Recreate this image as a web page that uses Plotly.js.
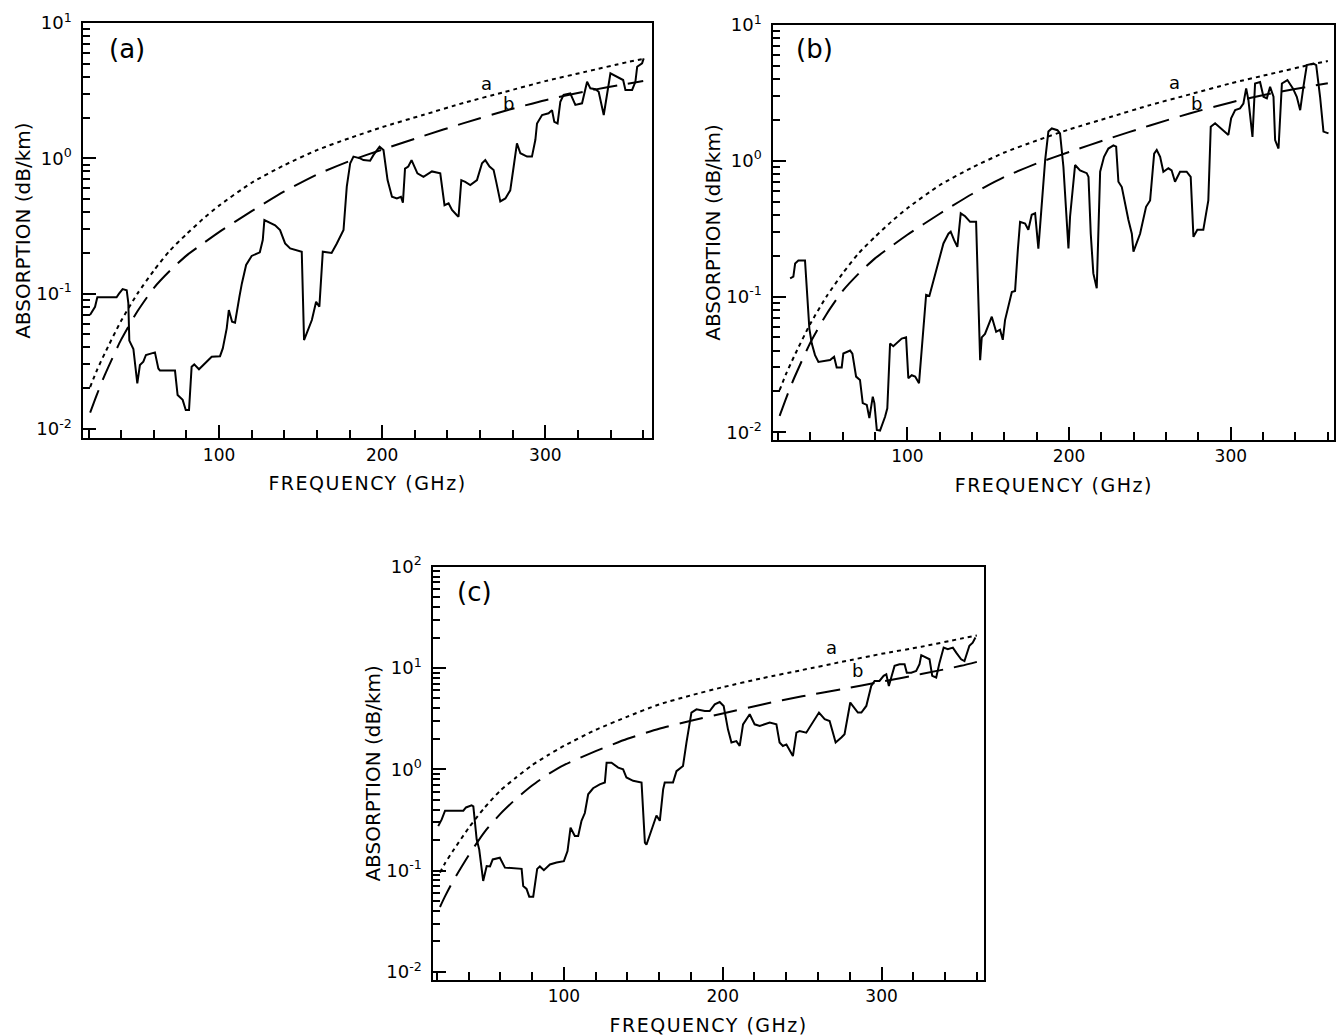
<!DOCTYPE html>
<html>
<head>
<meta charset="utf-8">
<script src="https://cdn.plot.ly/plotly-3.0.1.min.js"></script>
<style>
  html, body { margin: 0; padding: 0; background: #ffffff; }
  #chart { width: 1336px; height: 1036px; }
  .xtitle, .x2title, .x3title { letter-spacing: 1.5px; }
</style>
</head>
<body>
<div id="chart"></div>
<script>
// ---------------- tick labels ----------------
const freqTicks = [100, 200, 300];
const freqTickLabels = ['100', '200', '300'];
const absTicksAB = [0.01, 0.1, 1, 10];
const absTickLabelsAB = ['10<sup>-2</sup>', '10<sup>-1</sup>', '10<sup>0</sup>', '10<sup>1</sup>'];
const absTicksC = [0.01, 0.1, 1, 10, 100];
const absTickLabelsC = ['10<sup>-2</sup>', '10<sup>-1</sup>', '10<sup>0</sup>', '10<sup>1</sup>', '10<sup>2</sup>'];
const panelLabels = ['(a)', '(b)', '(c)'];
const curveLabels = ['a', 'b'];

// ---------------- model curves (dotted "a", dashed "b") ----------------
const freqModel = [21, 25, 30, 40, 50, 60, 70, 80, 90, 100, 120, 140, 160, 180, 200, 225, 250, 275, 300, 325, 350, 360];
const modelA_ab = [0.0204, 0.0269, 0.0363, 0.063, 0.100, 0.148, 0.209, 0.275, 0.355, 0.447, 0.66, 0.89, 1.15, 1.41, 1.70, 2.09, 2.57, 3.09, 3.72, 4.37, 5.13, 5.43];
const modelB_ab = [0.0132, 0.0178, 0.0251, 0.0457, 0.0741, 0.110, 0.148, 0.191, 0.234, 0.285, 0.407, 0.569, 0.759, 0.955, 1.16, 1.46, 1.82, 2.24, 2.69, 3.13, 3.55, 3.72];
const freqModelC = [22, 25, 30, 40, 50, 60, 70, 80, 90, 100, 120, 140, 160, 180, 200, 225, 250, 275, 300, 325, 350, 360];
const modelA_c = [0.0955, 0.117, 0.155, 0.263, 0.417, 0.617, 0.832, 1.10, 1.38, 1.70, 2.45, 3.31, 4.37, 5.37, 6.46, 7.94, 9.55, 11.5, 13.8, 16.2, 19.5, 20.9];
const modelB_c = [0.0437, 0.0550, 0.0776, 0.141, 0.240, 0.363, 0.513, 0.692, 0.891, 1.10, 1.51, 2.00, 2.51, 3.02, 3.55, 4.37, 5.25, 6.17, 7.33, 8.71, 10.5, 11.5];

// ---------------- measured curve, panel (a) ----------------
const freqMeasA = [
  20.9, 24, 25.4, 37.2, 38.7, 40.9, 43.4, 44.4, 45, 47.5,
  49.9, 51.5, 53.6, 55.2, 60.7, 62.8, 63.8, 73, 74.6, 77.7,
  79.6, 81.6, 83.2, 84.8, 87.7, 91.4, 95.5, 100.6, 102.3, 104.7,
  106, 108, 109.8, 112.5, 114, 116.6, 120, 125, 126.8, 127.8,
  134.4, 137.4, 140.5, 143.6, 146.6, 150.7, 152.1, 156.9, 159.5, 161.5,
  163.6, 169, 172.2, 176.3, 178.3, 180.4, 182.4, 186.5, 188.5, 192.6,
  194.7, 198.4, 200.8, 203.3, 206, 209, 211.5, 212.7, 214, 216,
  218, 221.6, 225.3, 230.5, 235.6, 238.2, 240.7, 242.8, 245.8, 246.8,
  248.5, 250.9, 254, 258.1, 261.2, 263.2, 265.8, 268.3, 269.9, 272.4,
  275.5, 278.5, 280.6, 282.6, 284.7, 288.8, 291.8, 293.9, 294.9, 298,
  302, 304.1, 305.5, 307.5, 309.2, 311.2, 315.3, 318.4, 322.5, 325.6,
  327.6, 330.7, 332.7, 335.8, 339.9, 344, 347.7, 349.1, 353.2, 355.2,
  356.3, 359.3, 360.3
];
const absMeasA = [
  0.0695, 0.080, 0.094, 0.094, 0.10, 0.108, 0.106, 0.085, 0.045, 0.039,
  0.0217, 0.0297, 0.0314, 0.0352, 0.0368, 0.028, 0.027, 0.027, 0.0178, 0.0164,
  0.0138, 0.0138, 0.0288, 0.030, 0.0276, 0.0305, 0.0342, 0.0345, 0.0394, 0.0554,
  0.0757, 0.062, 0.061, 0.095, 0.119, 0.163, 0.19, 0.202, 0.249, 0.35,
  0.32, 0.295, 0.235, 0.216, 0.21, 0.204, 0.0454, 0.0638, 0.087, 0.080,
  0.204, 0.20, 0.235, 0.295, 0.617, 0.92, 1.03, 1.0, 0.97, 0.96,
  1.06, 1.22, 1.15, 0.69, 0.52, 0.505, 0.52, 0.47, 0.84, 0.87,
  0.97, 0.775, 0.73, 0.80, 0.775, 0.45, 0.465, 0.415, 0.38, 0.37,
  0.69, 0.67, 0.635, 0.69, 0.92, 0.97, 0.87, 0.82, 0.67, 0.48,
  0.505, 0.58, 0.87, 1.29, 1.09, 1.03, 1.03, 1.37, 1.81, 2.09,
  2.15, 2.27, 1.86, 1.81, 2.62, 2.94, 3.02, 2.48, 2.55, 3.68,
  3.29, 3.24, 3.1, 2.09, 4.25, 4.0, 3.79, 3.2, 3.2, 3.68,
  4.75, 5.03, 5.48
];

// ---------------- measured curve, panel (b) ----------------
const freqMeasB = [
  27.5, 29.5, 30.6, 32.6, 36.7, 37.8, 39.4, 40.9, 42.9, 45,
  52.2, 54.7, 56.3, 59.4, 60.4, 64.6, 66, 68.3, 70.7, 72.4,
  74.9, 76.5, 78.6, 79.6, 81.1, 83.1, 86.2, 87.6, 89.3, 91.3,
  96.5, 99.2, 100.6, 102.7, 104.8, 107.2, 111.6, 113.6, 116.5, 119.2,
  122.3, 125.4, 126.8, 128.9, 130.9, 133, 135.7, 138.8, 142.5, 145,
  146, 148, 152.2, 154.9, 157.3, 159, 160.4, 164.6, 166.6, 168.3,
  169.7, 172.8, 174.8, 176.9, 179, 181, 183.1, 185.2, 187.2, 189.3,
  192.8, 194.4, 196.5, 198.6, 199.6, 200.6, 203.7, 206.8, 210.9, 212,
  213.4, 215, 217.1, 219.2, 221.6, 224.3, 227.4, 229.1, 230.5, 232.6,
  234.6, 236.7, 238.8, 239.8, 243.9, 247.6, 250.1, 252.6, 254.2, 256.3,
  258.3, 261.4, 263.4, 265.5, 268.6, 272.7, 275.2, 276.9, 279.3, 283,
  286.1, 287.6, 290.3, 292.9, 295.9, 298.5, 300.2, 302.7, 305.7, 307.8,
  309.5, 310.9, 313.4, 315, 318.1, 320.2, 322.3, 324.3, 326.4, 327.4,
  329.5, 331.6, 335, 338.4, 340.8, 342.9, 344.9, 347, 351.1, 352.8,
  355.2, 357.3, 360.4
];
const absMeasB = [
  0.136, 0.14, 0.175, 0.184, 0.184, 0.112, 0.058, 0.045, 0.037, 0.033,
  0.034, 0.036, 0.030, 0.030, 0.038, 0.040, 0.038, 0.0257, 0.0243, 0.0164,
  0.0159, 0.0127, 0.0183, 0.0164, 0.0104, 0.0103, 0.013, 0.015, 0.045, 0.043,
  0.049, 0.050, 0.025, 0.0263, 0.0257, 0.023, 0.103, 0.101, 0.136, 0.186,
  0.246, 0.29, 0.30, 0.26, 0.232, 0.41, 0.39, 0.355, 0.355, 0.034,
  0.05, 0.053, 0.071, 0.055, 0.057, 0.048, 0.067, 0.108, 0.11, 0.22,
  0.355, 0.345, 0.31, 0.40, 0.41, 0.225, 0.51, 1.01, 1.64, 1.73,
  1.68, 1.59, 0.90, 0.327, 0.226, 0.387, 0.93, 0.85, 0.81, 0.76,
  0.29, 0.148, 0.115, 0.83, 1.07, 1.23, 1.30, 1.27, 0.70, 0.64,
  0.485, 0.366, 0.29, 0.214, 0.29, 0.458, 0.51, 1.13, 1.2, 1.07,
  0.83, 0.88, 0.85, 0.70, 0.83, 0.83, 0.76, 0.275, 0.31, 0.31,
  0.51, 1.78, 1.89, 1.78, 1.64, 1.55, 2.05, 2.36, 2.43, 2.64,
  3.41, 2.8, 1.5, 3.71, 3.8, 2.96, 2.88, 3.5, 2.96, 1.42,
  1.23, 3.71, 3.93, 3.41, 2.96, 2.36, 3.5, 5.07, 5.2, 5.07,
  2.96, 1.64, 1.59
];

// ---------------- measured curve, panel (c) ----------------
const freqMeasC = [
  20.9, 23.1, 25.2, 36.7, 38.4, 41.9, 43, 45.1, 46.7, 49.2,
  51.4, 53.5, 55.2, 59.7, 62.9, 70.3, 73.4, 74.4, 76.5, 78.2,
  80.7, 83.2, 84.9, 87.4, 91.2, 95.4, 100, 102.3, 104.2, 106.9,
  109, 111.1, 113.2, 115.3, 118.4, 122.6, 125.8, 126.9, 130, 134.2,
  137.3, 139.4, 143.6, 148.9, 151, 152, 155.2, 158.3, 160.4, 162.5,
  163.5, 168.7, 170.9, 175, 177.2, 180.3, 183.5, 188.7, 191.8, 195,
  198.1, 200.6, 203.3, 205.5, 208.6, 210.7, 212.8, 214.9, 217, 220.1,
  223.3, 229.6, 233.8, 235.8, 237.9, 240.1, 242.1, 244.2, 246.4, 248.4,
  252.6, 256.8, 260.6, 264.2, 267.3, 269.4, 271.1, 274.7, 276.7, 280.3,
  282, 285.1, 287.3, 290.4, 293.5, 295.6, 298.7, 301.3, 303, 304.6,
  306.1, 308.2, 311.3, 314.5, 315.9, 318.7, 321.8, 323.9, 325, 328.1,
  330.2, 331.9, 334.4, 336.5, 339.1, 341.7, 344.9, 347, 350.1, 352.2,
  355.3, 357.4, 359.1
];
const absMeasC = [
  0.275, 0.32, 0.39, 0.39, 0.42, 0.44, 0.43, 0.204, 0.162, 0.079,
  0.111, 0.11, 0.129, 0.134, 0.107, 0.104, 0.104, 0.0704, 0.066, 0.0553,
  0.0553, 0.104, 0.11, 0.101, 0.115, 0.12, 0.124, 0.156, 0.265, 0.22,
  0.22, 0.31, 0.37, 0.567, 0.65, 0.71, 0.74, 1.16, 1.16, 1.04,
  1.0, 0.83, 0.77, 0.74, 0.189, 0.18, 0.255, 0.35, 0.31, 0.634,
  0.74, 0.74, 0.96, 1.08, 1.84, 3.63, 3.91, 3.76, 3.76, 4.38,
  4.62, 4.22, 2.48, 1.84, 1.9, 1.7, 2.78, 3.12, 3.49, 2.78,
  2.68, 2.89, 2.78, 1.84, 1.7, 1.76, 1.52, 1.35, 2.3, 2.39,
  2.3, 2.89, 3.63, 3.12, 3.0, 2.3, 1.84, 2.06, 2.22, 4.56,
  4.22, 3.63, 3.63, 4.22, 6.65, 7.45, 7.45, 8.36, 8.67, 6.65,
  8.05, 10.5, 10.9, 10.9, 9.0, 9.0, 9.35, 10.9, 13.4, 12.7,
  12.2, 8.36, 8.05, 11.3, 15.9, 15.3, 15.9, 14.2, 12.2, 11.7,
  16.6, 17.8, 20.0
];

// ---------------- styling / layout ----------------
const FONT = 'DejaVu Sans, Liberation Sans, sans-serif';
const BLACK = '#000000';

function minorFreqTicks() {
  const v = [];
  for (let f = 20; f <= 360; f += 20) v.push(f);
  return v;
}
function minorLogTicks(d0, d1) {
  const v = [];
  for (let d = d0; d < d1; d++) for (let m = 2; m <= 9; m++) v.push(m * Math.pow(10, d));
  return v;
}

function xAxis(domain, anchor, range) {
  return {
    domain: domain, anchor: anchor, range: range, type: 'linear',
    tickmode: 'array', tickvals: freqTicks, ticktext: freqTickLabels,
    ticks: 'inside', ticklen: 13, tickwidth: 2, tickcolor: BLACK,
    showline: true, linewidth: 2, linecolor: BLACK, mirror: true,
    showgrid: false, zeroline: false, fixedrange: true,
    tickfont: { family: FONT, size: 17, color: BLACK },
    minor: { tickmode: 'array', tickvals: minorFreqTicks(), ticks: 'inside', ticklen: 8, tickwidth: 2, tickcolor: BLACK, showgrid: false },
    title: { text: 'FREQUENCY (GHz)', font: { family: FONT, size: 19, color: BLACK }, standoff: 13 }
  };
}
function yAxis(domain, anchor, range, vals, texts, d0, d1) {
  return {
    domain: domain, anchor: anchor, range: range, type: 'log',
    tickmode: 'array', tickvals: vals, ticktext: texts,
    ticks: 'inside', ticklen: 13, tickwidth: 2, tickcolor: BLACK,
    showline: true, linewidth: 2, linecolor: BLACK, mirror: true,
    showgrid: false, zeroline: false, fixedrange: true,
    ticklabelstandoff: 6,
    tickfont: { family: FONT, size: 18, color: BLACK },
    minor: { tickmode: 'array', tickvals: minorLogTicks(d0, d1), ticks: 'inside', ticklen: 7, tickwidth: 2, tickcolor: BLACK, showgrid: false },
    title: { text: 'ABSORPTION (dB/km)', font: { family: FONT, size: 20, color: BLACK }, standoff: 0 }
  };
}

const solid = { color: BLACK, width: 2 };
const dotted = { color: BLACK, width: 2, dash: '4px,4px', shape: 'spline', smoothing: 0.6 };
const dashed = { color: BLACK, width: 2, dash: '24px,11px', shape: 'spline', smoothing: 0.6 };

function tr(x, y, line, xa, ya) {
  return { x: x, y: y, type: 'scatter', mode: 'lines', line: line, xaxis: xa, yaxis: ya, hoverinfo: 'skip', showlegend: false };
}

const data = [
  tr(freqModel, modelA_ab, dotted, 'x', 'y'),
  tr(freqModel, modelB_ab, dashed, 'x', 'y'),
  tr(freqMeasA, absMeasA, solid, 'x', 'y'),
  tr(freqModel, modelA_ab, dotted, 'x2', 'y2'),
  tr(freqModel, modelB_ab, dashed, 'x2', 'y2'),
  tr(freqMeasB, absMeasB, solid, 'x2', 'y2'),
  tr(freqModelC, modelA_c, dotted, 'x3', 'y3'),
  tr(freqModelC, modelB_c, dashed, 'x3', 'y3'),
  tr(freqMeasC, absMeasC, solid, 'x3', 'y3')
];

function ann(text, x, y, xref, yref, size) {
  return { text: text, x: x, y: y, xref: xref, yref: yref, showarrow: false,
           xanchor: 'center', yanchor: 'middle', font: { family: FONT, size: size, color: BLACK } };
}

const layout = {
  width: 1336, height: 1036,
  margin: { l: 0, r: 0, t: 0, b: 0 },
  paper_bgcolor: '#ffffff', plot_bgcolor: '#ffffff',
  showlegend: false,
  xaxis:  xAxis([0.06235, 0.48780], 'y',  [16.8, 365.2]),
  yaxis:  yAxis([0.57693, 0.97780], 'x',  [-2.069, 1.0], absTicksAB, absTickLabelsAB, -2, 1),
  xaxis2: xAxis([0.57882, 0.99873], 'y2', [17.1, 364.0]),
  yaxis2: yAxis([0.57529, 0.97587], 'x2', [-2.057, 1.0], absTicksAB, absTickLabelsAB, -2, 1),
  xaxis3: xAxis([0.32433, 0.73653], 'y3', [17.8, 364.5]),
  yaxis3: yAxis([0.05405, 0.45299], 'x3', [-2.08, 2.0], absTicksC, absTickLabelsC, -2, 2),
  annotations: [
    ann(panelLabels[0], 0.0951, 0.9527, 'paper', 'paper', 26),
    ann(panelLabels[1], 0.6100, 0.9527, 'paper', 'paper', 26),
    ann(panelLabels[2], 0.3548, 0.4286, 'paper', 'paper', 26),
    ann(curveLabels[0], 263.7, 0.554, 'x', 'y', 18),
    ann(curveLabels[1], 277.7, 0.406, 'x', 'y', 18),
    ann(curveLabels[0], 264.9, 0.574, 'x2', 'y2', 18),
    ann(curveLabels[1], 279.0, 0.423, 'x2', 'y2', 18),
    ann(curveLabels[0], 268.7, 1.202, 'x3', 'y3', 18),
    ann(curveLabels[1], 285.1, 0.971, 'x3', 'y3', 18)
  ]
};

Plotly.newPlot('chart', data, layout, { displayModeBar: false, staticPlot: true });
</script>
</body>
</html>
